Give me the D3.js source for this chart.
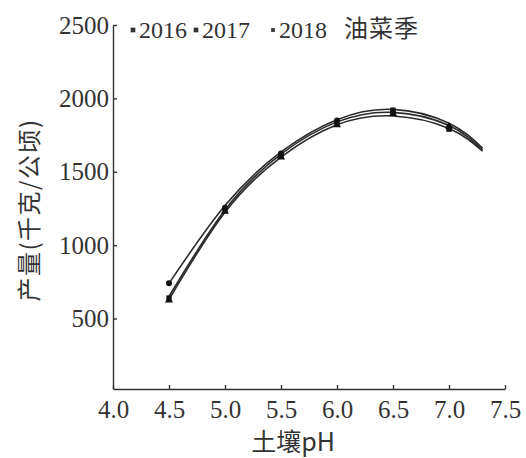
<!DOCTYPE html>
<html>
<head>
<meta charset="utf-8">
<script src="https://cdn.jsdelivr.net/npm/d3@7"></script>
<style>
  body { margin: 0; background: #fff; }
  svg { font-family: "Liberation Serif", "Times New Roman", serif; }
  text { fill: #333; }
</style>
</head>
<body>
<div id="chart"></div>
<script>
// sizes
const width = 526;
const height = 458;
const serif = '"Liberation Serif", "Times New Roman", serif';
const cjk = '"Noto Sans CJK SC", sans-serif';

// data
const years = ["2016", "2017", "2018"];
const phPoints = [4.5, 5.0, 5.5, 6.0, 6.5, 7.0];
const marks2016 = [740, 1255, 1625, 1850, 1905, 1800];
const marks2017 = [640, 1240, 1610, 1835, 1920, 1790];
const marks2018 = [625, 1230, 1600, 1820, 1895, 1810];
// fitted curves, read at these pH values
const phCurve = [4.5, 5.0, 5.5, 6.0, 6.5, 7.0, 7.3];
const curve2016 = [740, 1270, 1635, 1855, 1925, 1830, 1660];
const curve2017 = [650, 1240, 1620, 1840, 1905, 1815, 1650];
const curve2018 = [630, 1225, 1600, 1820, 1880, 1795, 1640];
const xTicks = [4.0, 4.5, 5.0, 5.5, 6.0, 6.5, 7.0, 7.5];
const yTicks = [500, 1000, 1500, 2000, 2500];

const marks = [marks2016, marks2017, marks2018];
const curves = [curve2016, curve2017, curve2018];
const shapes = [d3.symbolCircle, d3.symbolSquare, d3.symbolTriangle];

const svg = d3.select("#chart")
  .append("svg")
  .attr("width", width)
  .attr("height", height);

const x = d3.scaleLinear().domain([4.0, 7.5]).range([113, 505]);
const y = d3.scaleLinear().domain([20, 2500]).range([389, 25]);

// axes, ticks point inward
const xAxis = svg.append("g")
  .attr("transform", `translate(0,${y(20)})`)
  .call(d3.axisBottom(x).tickValues(xTicks).tickFormat(d3.format(".1f"))
    .tickSizeInner(-4).tickSizeOuter(0).tickPadding(11));
xAxis.selectAll("text")
  .style("font-family", serif).style("font-size", "25px").attr("fill", "#333");

const yAxis = svg.append("g")
  .attr("transform", `translate(${x(4.0)},0)`)
  .call(d3.axisLeft(y).tickValues(yTicks).tickFormat(d3.format("d"))
    .tickSizeInner(-4).tickSizeOuter(0).tickPadding(4));
yAxis.selectAll("text")
  .style("font-family", serif).style("font-size", "25px").attr("fill", "#333");

svg.selectAll(".domain, .tick line").attr("stroke", "#333").attr("stroke-width", 1.4);

// curves
const line = d3.line()
  .x((d, i) => x(phCurve[i]))
  .y(d => y(d))
  .curve(d3.curveNatural);

svg.selectAll(".curve")
  .data(curves)
  .enter()
  .append("path")
    .attr("class", "curve")
    .attr("d", line)
    .attr("fill", "none")
    .attr("stroke", "#2b2b2b")
    .attr("stroke-width", 1.6);

// markers
marks.forEach((m, k) => {
  svg.selectAll(".mk" + k)
    .data(m)
    .enter()
    .append("path")
      .attr("class", "mk" + k)
      .attr("transform", (d, i) => `translate(${x(phPoints[i])},${y(d)})`)
      .attr("d", d3.symbol().type(shapes[k]).size(28))
      .attr("fill", "#111");
});

// legend
const legend = svg.append("g").attr("transform", "translate(0,38)");
const legX = [133, 196, 273];
years.forEach((yr, k) => {
  legend.append("path")
    .attr("transform", `translate(${legX[k]},-8)`)
    .attr("d", d3.symbol().type(d3.symbolSquare).size(k == 2 ? 14 : 22))
    .attr("fill", "#333");
  legend.append("text")
    .attr("x", legX[k] + 6)
    .style("font-family", serif)
    .style("font-size", "24px")
    .text(yr);
});
legend.append("text")
  .attr("x", 344)
  .attr("y", -1)
  .style("font-family", cjk)
  .style("font-size", "24px")
  .style("letter-spacing", "1px")
  .text("油菜季");

// axis titles
svg.append("text")
  .attr("transform", "translate(38,210) rotate(-90)")
  .attr("text-anchor", "middle")
  .style("font-family", cjk)
  .style("font-size", "24px")
  .style("letter-spacing", "1.5px")
  .text("产量(千克/公顷)");

svg.append("text")
  .attr("x", 293)
  .attr("y", 451)
  .attr("text-anchor", "middle")
  .style("font-family", cjk)
  .style("font-size", "25px")
  .text("土壤pH");
</script>
</body>
</html>
